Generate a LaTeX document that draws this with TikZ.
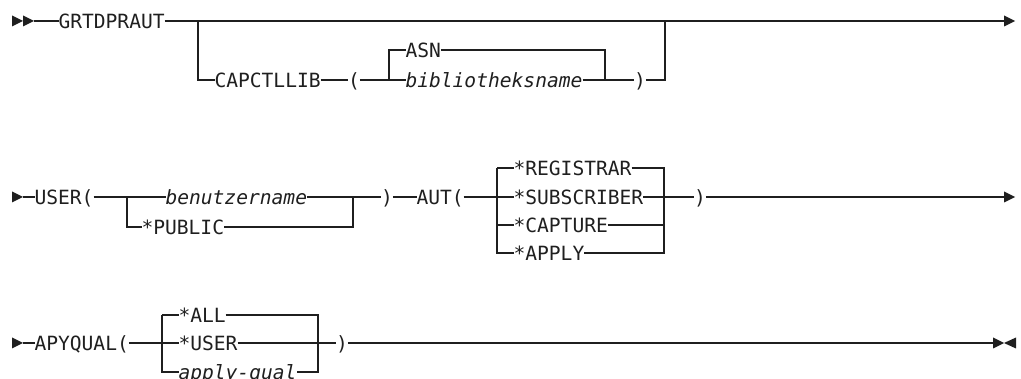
\documentclass[tikz,border=0pt]{standalone}
\usepackage{fontspec}
\newfontfamily\rrfont{DejaVu Sans Mono}[ItalicFont={DejaVu Sans Mono Oblique}]
\begin{document}
\begin{tikzpicture}[x=1pt,y=-1pt,
  rr/.style={line width=1.2pt, draw=black!88},
  kw/.style={anchor=west, inner sep=0pt, outer sep=0pt, text height=14.3pt, text depth=0pt,
             font=\rrfont\fontsize{19.6}{20}\selectfont, text=black!88},
  var/.style={kw, font=\rrfont\itshape\fontsize{19.6}{20}\selectfont},
  tip/.style={fill=black!88}]
\useasboundingbox (0,0) rectangle (1021,379);
\clip (0,0) rectangle (1021,379);
% ---------------- Row 1
\fill[tip] (12,15.5) -- (23,21) -- (12,26.5) -- cycle;
\fill[tip] (23,15.5) -- (34,21) -- (23,26.5) -- cycle;
\coordinate (s1) at (34,21);
\node[kw] (grt) at (58.5,21) {GRTDPRAUT};
\coordinate (b1) at (198,21);
\coordinate (e1) at (665,21);
\coordinate (end1) at (1004,21);
\draw[rr] (s1) -- (grt.west);
\draw[rr] (grt.east) -- (end1);
\fill[tip] (1004,15.5) -- (1015,21) -- (1004,26.5) -- cycle;
\node[kw] (cap) at (214.5,80) {CAPCTLLIB};
\node[kw] (lp1) at (348,80) {(};
\coordinate (b2) at (389,80);
\node[kw] (asn) at (405.5,50) {ASN};
\node[var] (bib) at (405.5,80) {bibliotheksname};
\coordinate (j2) at (605,80);
\node[kw] (rp1) at (634,80) {)};
\draw[rr] (b1) |- (cap.west);
\draw[rr] (cap.east) -- (lp1.west);
\draw[rr] (lp1.east) -- (bib.west);
\draw[rr] (b2) |- (asn.west);
\draw[rr] (asn.east) -| (j2);
\draw[rr] (bib.east) -- (rp1.west);
\draw[rr] (rp1.east) -| (e1);
% ---------------- Row 2
\fill[tip] (12,191.5) -- (23,197) -- (12,202.5) -- cycle;
\coordinate (s2) at (23,197);
\node[kw] (user) at (34.5,197) {USER(};
\coordinate (b3) at (127,197);
\node[var] (ben) at (165.5,197) {benutzername};
\node[kw] (pub) at (141.5,227) {*PUBLIC};
\coordinate (j3) at (353,197);
\node[kw] (rp2) at (381,197) {)};
\node[kw] (aut) at (416.5,197) {AUT(};
\coordinate (b4) at (497,197);
\node[kw] (reg) at (513.5,168) {*REGISTRAR};
\node[kw] (sub) at (513.5,197) {*SUBSCRIBER};
\node[kw] (cpt) at (513.5,225) {*CAPTURE};
\node[kw] (apl) at (513.5,253) {*APPLY};
\coordinate (j4) at (664,197);
\node[kw] (rp3) at (694,197) {)};
\coordinate (end2) at (1004,197);
\draw[rr] (s2) -- (user.west);
\draw[rr] (user.east) -- (ben.west);
\draw[rr] (b3) |- (pub.west);
\draw[rr] (pub.east) -| (j3);
\draw[rr] (ben.east) -- (rp2.west);
\draw[rr] (rp2.east) -- (aut.west);
\draw[rr] (aut.east) -- (sub.west);
\draw[rr] (b4 |- reg.west) |- (apl.west);
\draw[rr] (b4 |- reg.west) -- (reg.west);
\draw[rr] (b4 |- cpt.west) -- (cpt.west);
\draw[rr] (reg.east) -| (j4 |- apl.east) -- (apl.east);
\draw[rr] (cpt.east) -- (j4 |- cpt.east);
\draw[rr] (sub.east) -- (rp3.west);
\draw[rr] (rp3.east) -- (end2);
\fill[tip] (1004,191.5) -- (1015,197) -- (1004,202.5) -- cycle;
% ---------------- Row 3
\fill[tip] (12,337.5) -- (23,343) -- (12,348.5) -- cycle;
\coordinate (s3) at (23,343);
\node[kw] (apy) at (34.5,343) {APYQUAL(};
\coordinate (b5) at (162,343);
\node[kw] (all) at (178.5,315) {*ALL};
\node[kw] (usr) at (178.5,343) {*USER};
\node[var] (aq) at (178.5,372) {apply-qual};
\coordinate (j5) at (318,343);
\node[kw] (rp4) at (336,343) {)};
\coordinate (end3) at (993,343);
\draw[rr] (s3) -- (apy.west);
\draw[rr] (apy.east) -- (usr.west);
\draw[rr] (b5 |- all.west) |- (aq.west);
\draw[rr] (b5 |- all.west) -- (all.west);
\draw[rr] (all.east) -| (j5 |- aq.east) -- (aq.east);
\draw[rr] (usr.east) -- (rp4.west);
\draw[rr] (rp4.east) -- (end3);
\fill[tip] (993,337.5) -- (1004,343) -- (993,348.5) -- cycle;
\fill[tip] (1016,337.5) -- (1004,343) -- (1016,348.5) -- cycle;
\end{tikzpicture}
\end{document}
